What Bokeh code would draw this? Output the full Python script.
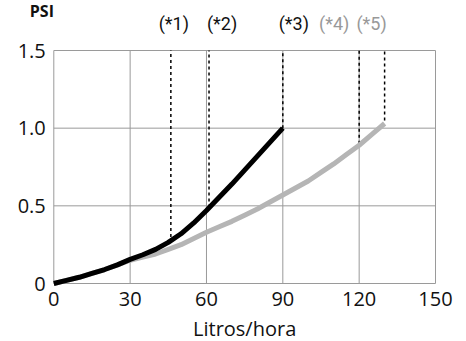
from bokeh.plotting import figure
from bokeh.models import FixedTicker, Label, ColumnDataSource
from bokeh.core.properties import value
from bokeh.embed import file_html
from bokeh.resources import INLINE

# ---- data ----
flow_black = [0, 5, 10, 15, 20, 25, 30, 35, 40, 45, 50, 55, 60, 65, 70, 75, 80, 85, 90]
psi_black = [0.0, 0.02, 0.04, 0.065, 0.09, 0.12, 0.155, 0.185, 0.22, 0.265, 0.32,
             0.39, 0.47, 0.555, 0.64, 0.73, 0.82, 0.91, 1.0]

flow_gray = [0, 5, 10, 15, 20, 25, 30, 35, 40, 45, 50, 55, 60, 65, 70, 75, 80, 85,
             90, 95, 100, 105, 110, 115, 120, 125, 130]
psi_gray = [0.0, 0.02, 0.04, 0.065, 0.09, 0.12, 0.15, 0.17, 0.19, 0.22, 0.25, 0.29,
            0.33, 0.365, 0.40, 0.44, 0.48, 0.525, 0.57, 0.615, 0.66, 0.715, 0.77,
            0.83, 0.89, 0.96, 1.03]

marker_flow = [46, 61, 90, 120, 130]
marker_psi = [0.30, 0.49, 1.0, 0.90, 1.05]
marker_labels = ["(*1)", "(*2)", "(*3)", "(*4)", "(*5)"]

x_ticks = [0, 30, 60, 90, 120, 150]
y_ticks = [0, 0.5, 1.0, 1.5]
y_tick_labels = ["0", "0.5", "1.0", "1.5"]

x_label = "Litros/hora"
y_label = "PSI"

# ---- layout constants (pixels) ----
W, H = 466, 341
PX_X = 381.7 / 150.0    # px per Litros/hora
PX_Y = 233 / 1.5        # px per PSI
ORIGIN_X = 53.3         # px from figure left to x=0
ORIGIN_Y = 58.0         # px from figure bottom to y=0

x_lo = -ORIGIN_X / PX_X
x_hi = (W - ORIGIN_X) / PX_X
y_lo = -ORIGIN_Y / PX_Y
y_hi = (H - ORIGIN_Y) / PX_Y

GRID = "#9a9a9a"
TICK_FONT = "Open Sans"
X_MAX, Y_MAX = x_ticks[-1], y_ticks[-1]

p = figure(width=W, height=H, x_range=(x_lo, x_hi), y_range=(y_lo, y_hi),
           output_backend="svg", toolbar_location=None, min_border=0)
p.background_fill_color = "white"
p.border_fill_color = "white"
p.outline_line_color = None
p.grid.visible = False

for ax in (p.xaxis[0], p.yaxis[0]):
    ax.fixed_location = 0
    ax.axis_line_color = None
    ax.major_tick_line_color = None
    ax.minor_tick_line_color = None
    ax.major_label_text_font = TICK_FONT
    ax.major_label_text_font_size = "20px"
    ax.major_label_text_color = "#111111"

p.xaxis.ticker = FixedTicker(ticks=x_ticks)
p.yaxis.ticker = FixedTicker(ticks=y_ticks)
p.yaxis.major_label_overrides = {t: l for t, l in zip(y_ticks, y_tick_labels)}
p.xaxis.major_label_standoff = 2
p.yaxis.major_label_standoff = 2

# grid lines (bounded to the plotting box)
p.segment(x0=x_ticks, y0=[0] * len(x_ticks), x1=x_ticks, y1=[Y_MAX] * len(x_ticks),
          line_color=GRID, line_width=1)
p.segment(x0=[0] * len(y_ticks), y0=y_ticks, x1=[X_MAX] * len(y_ticks), y1=y_ticks,
          line_color=GRID, line_width=1)

# dotted reference lines from the curve to the top
src = ColumnDataSource(dict(x=marker_flow, y0=marker_psi, y1=[Y_MAX] * len(marker_flow)))
p.segment(x0="x", y0="y0", x1="x", y1="y1", source=src,
          line_color="black", line_width=1.5, line_dash="3 3")

p.line(flow_gray, psi_gray, line_color="#b5b5b5", line_width=5)
p.line(flow_black, psi_black, line_color="black", line_width=5)

# marker labels above the plot
label_colors = ["#111111", "#111111", "#111111", "#999999", "#999999"]
label_dx = [3, 13, 11, -25, -13]          # px shift of each label from its line
label_rise = 27                           # px from top gridline to text anchor
lab_src = ColumnDataSource(dict(
    x=[xv + dx / PX_X for xv, dx in zip(marker_flow, label_dx)],
    y=[Y_MAX + label_rise / PX_Y] * len(marker_flow),
    text=marker_labels, color=label_colors))
p.text(x="x", y="y", text="text", source=lab_src, text_color="color",
       text_align="center", text_baseline="alphabetic",
       text_font=value("Roboto"), text_font_size="18px")

# axis titles
p.add_layout(Label(x=-24 / PX_X, y=Y_MAX + 40 / PX_Y, text=y_label,
                   text_align="left", text_baseline="alphabetic",
                   text_font=TICK_FONT, text_font_style="bold", text_font_size="16px",
                   text_color="#111111"))
p.add_layout(Label(x=X_MAX / 2, y=-45 / PX_Y, text=x_label,
                   text_align="center", text_baseline="alphabetic",
                   text_font=TICK_FONT, text_font_size="20px", text_color="#111111"))

open("out.html", "w").write(file_html(p, INLINE))
